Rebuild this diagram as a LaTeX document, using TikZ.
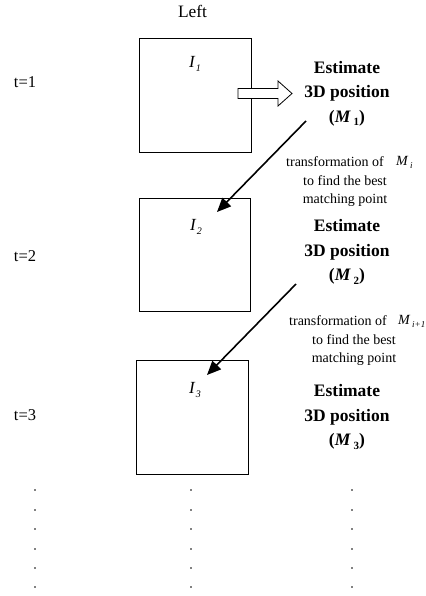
\documentclass[tikz,border=0pt]{standalone}
\usepackage{fontspec}
\setmainfont{Liberation Serif}
\usetikzlibrary{arrows.meta}
\newcommand{\lowsub}[2][9]{\raisebox{-0.45ex}{\fontsize{#1}{#1}\selectfont #2}}
\tikzset{
  frame/.style={draw, line width=0.9pt, minimum width=112pt, minimum height=114pt, inner sep=0pt},
  timelbl/.style={font=\fontsize{16.5}{18}\selectfont},
  imglbl/.style={font=\fontsize{17}{18}\selectfont\itshape},
  estim/.style={font=\fontsize{17.5}{24.5}\selectfont\bfseries, align=center},
  small/.style={font=\fontsize{14}{16}\selectfont, inner sep=0pt},
  smallm/.style={font=\fontsize{14}{16}\selectfont\itshape, inner sep=0pt, anchor=west},
  flow/.style={line width=1.6pt, -{Triangle[length=14pt,width=12pt]}},
  hollow/.style={draw, line width=0.8pt, fill=white},
  dotmark/.style={fill=black, circle, inner sep=0pt, minimum size=1.7pt}
}
\begin{document}
\begin{tikzpicture}[x=1pt,y=-1pt]
\useasboundingbox (0,0) rectangle (425,596);
\node[font=\fontsize{17.4}{18}\selectfont] (left) at (192.5,11) {Left};
\node[timelbl] (t1) at (25,82) {t=1};
\node[timelbl] (t2) at (25,256) {t=2};
\node[timelbl] (t3) at (25,415) {t=3};
\node[frame] (b1) at (195,95) {};
\node[frame, minimum width=111pt, minimum height=113pt] (b2) at (194.5,254.5) {};
\node[frame] (b3) at (192,417) {};
\node[imglbl] (i1) at (195,64) {I\kern1pt\lowsub[10]{1}};
\node[imglbl] (i2) at (196,227) {I\kern1pt\lowsub[10]{2}};
\node[imglbl] (i3) at (195,390) {I\kern1pt\lowsub[10]{3}};
\node[estim] (e1) at (347,93.5) {Estimate\\3D position\\(\textit{M}\,\lowsub[11]{1})};
\node[estim] (e2) at (347,252) {Estimate\\3D position\\(\textit{M}\,\lowsub[11]{2})};
\node[estim] (e3) at (347,417) {Estimate\\3D position\\(\textit{M}\,\lowsub[11]{3})};
% hollow arrow
\path[hollow] (238,88.5) -- (278,88.5) -- (278,81) -- (292,93.5) -- (278,106) -- (278,98.5) -- (238,98.5) -- cycle;
% transformation texts
\node[small, anchor=east] (tr1) at (384,162) {transformation of};
\node[smallm] (m1) at (396,162) {M\,\lowsub[9]{i}};
\node[small] (f1) at (345,181) {to find the best};
\node[small] (p1) at (345,200) {matching point};
\node[small, anchor=east] (tr2) at (387,321) {transformation of};
\node[smallm] (m2) at (398,321) {M\,\lowsub[9]{i+1}};
\node[small] (f2) at (354,340) {to find the best};
\node[small] (p2) at (354,359) {matching point};
% diagonal arrows
\coordinate (a1s) at (306,121);
\coordinate (a1e) at (217,212);
\coordinate (a2s) at (296,284);
\coordinate (a2e) at (207,375);
\draw[flow] (a1s) -- (a1e);
\draw[flow] (a2s) -- (a2e);
% dots
\foreach \yy in {490,510,529,549,568,587}{
  \node[dotmark] at (35,\yy) {};
  \node[dotmark] at (191,\yy) {};
  \node[dotmark] at (352,\yy) {};
}
\end{tikzpicture}
\end{document}
